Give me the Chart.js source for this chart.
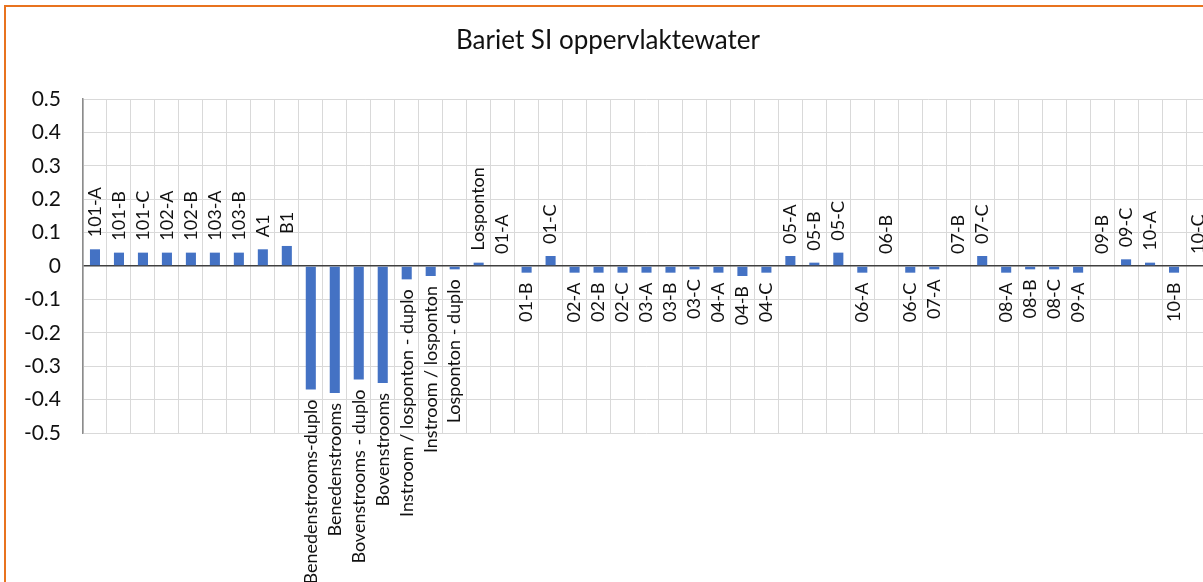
<!DOCTYPE html>
<html>
<head>
<meta charset="utf-8">
<title>Bariet SI oppervlaktewater</title>
<script src="https://cdn.jsdelivr.net/npm/chart.js@4.4.1/dist/chart.umd.min.js"></script>
<style>
  html, body { margin: 0; padding: 0; overflow: hidden; background: #fff; }
  #frame {
    position: absolute;
    left: 4px;
    top: 5px;
    width: 1220px;
    height: 600px;
    border: 2px solid #e8731f;
    background: #fff;
  }
  #chart { display: block; }
</style>
</head>
<body>
<div id="frame">
  <canvas id="chart" width="1220" height="600" style="width:1220px;height:600px"></canvas>
</div>
<script>
// Meetpunten (categorieën) en verzadigingsindex bariet
const categories = [
    '101-A', '101-B', '101-C', '102-A', '102-B', '103-A', '103-B', 'A1', 'B1',
    'Benedenstrooms-duplo', 'Benedenstrooms', 'Bovenstrooms - duplo', 'Bovenstrooms',
    'Instroom / losponton - duplo', 'Instroom / losponton', 'Losponton - duplo', 'Losponton',
    '01-A', '01-B', '01-C', '02-A', '02-B', '02-C', '03-A', '03-B', '03-C',
    '04-A', '04-B', '04-C', '05-A', '05-B', '05-C', '06-A', '06-B', '06-C',
    '07-A', '07-B', '07-C', '08-A', '08-B', '08-C', '09-A', '09-B', '09-C',
    '10-A', '10-B', '10-C'
];

const siValues = [
    0.05, 0.04, 0.04, 0.04, 0.04, 0.04, 0.04, 0.05, 0.06,
    -0.37, -0.38, -0.34, -0.35,
    -0.04, -0.03, -0.01, 0.01,
    0, -0.02, 0.03, -0.02, -0.02, -0.02, -0.02, -0.02, -0.01,
    -0.02, -0.03, -0.02, 0.03, 0.01, 0.04, -0.02, 0, -0.02,
    -0.01, 0, 0.03, -0.02, -0.01, -0.01, -0.02, 0, 0.02,
    0.01, -0.02, 0
];

const yTicks = [-0.5, -0.4, -0.3, -0.2, -0.1, 0, 0.1, 0.2, 0.3, 0.4, 0.5];

const FONT = 'Lato, "Open Sans", sans-serif';

// Category name written at the end of each bar (above positive, below negative)
const barLabels = {
    id: 'barLabels',
    afterDatasetsDraw(chart) {
        const ctx = chart.ctx;
        const meta = chart.getDatasetMeta(0);
        ctx.save();
        ctx.font = '18px ' + FONT;
        ctx.fillStyle = '#111';
        ctx.textBaseline = 'middle';
        meta.data.forEach((bar, i) => {
            const neg = siValues[i] < 0;
            ctx.save();
            ctx.translate(bar.x, neg ? bar.y + 10 : bar.y - 12);
            ctx.rotate(-Math.PI / 2);
            ctx.textAlign = neg ? 'right' : 'left';
            ctx.fillText(categories[i], 0, 0);
            ctx.restore();
        });
        ctx.restore();
    }
};

new Chart(document.getElementById('chart'), {
    type: 'bar',
    data: {
        labels: categories,
        datasets: [{
            label: 'SI',
            data: siValues,
            backgroundColor: '#4472c4',
            categoryPercentage: 1,
            barPercentage: 0.42
        }]
    },
    options: {
        responsive: false,
        animation: false,
        layout: {
            padding: { top: 3, left: 0, right: 16, bottom: 174 }
        },
        plugins: {
            legend: { display: false },
            tooltip: { enabled: false },
            title: {
                display: true,
                text: 'Bariet SI oppervlaktewater',
                color: '#111',
                font: { family: FONT, size: 26, weight: 'normal' },
                padding: { top: 15.4, bottom: 42.4 }
            }
        },
        scales: {
            x: {
                ticks: { display: false },
                grid: { color: '#d9d9d9', offset: true, drawTicks: false },
                border: { display: false }
            },
            y: {
                min: -0.5,
                max: 0.5,
                afterFit(scale) { scale.width = 77; },
                afterBuildTicks(scale) {
                    scale.ticks = yTicks.map(v => ({ value: v }));
                },
                ticks: {
                    padding: 22,
                    color: '#111',
                    font: { family: FONT, size: 21 },
                    callback: v => String(Math.round(v * 10) / 10)
                },
                grid: {
                    drawTicks: false,
                    color: ctx => ctx.tick && ctx.tick.value === 0 ? '#404040' : '#d9d9d9',
                    lineWidth: ctx => ctx.tick && ctx.tick.value === 0 ? 1.5 : 1
                },
                border: { color: '#8c8c8c', width: 1.5 }
            }
        }
    },
    plugins: [barLabels]
});
</script>
</body>
</html>
